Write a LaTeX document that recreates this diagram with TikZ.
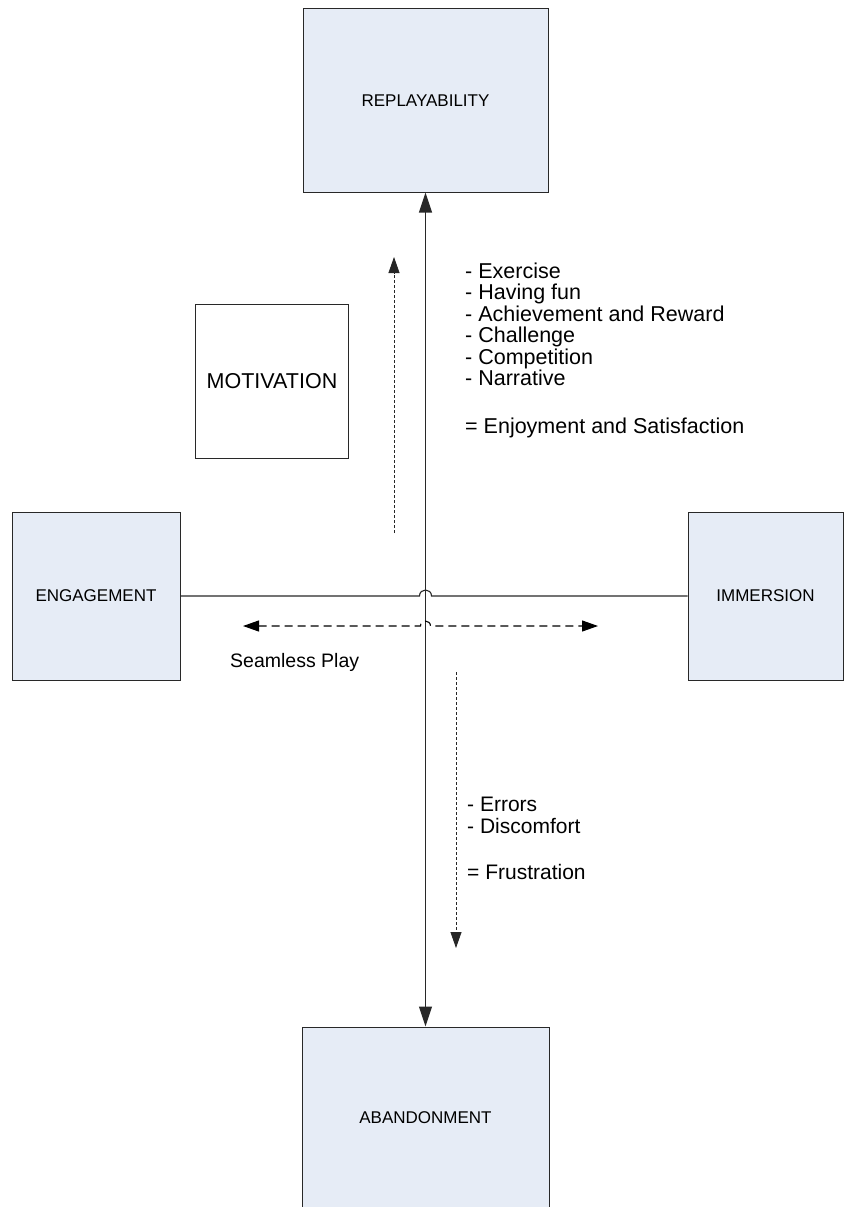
\documentclass[tikz,border=0pt]{standalone}
\usepackage{fontspec}
\setmainfont{Liberation Sans}
\usetikzlibrary{arrows.meta}
\definecolor{boxblue}{RGB}{230,236,246}
\definecolor{linegray}{RGB}{40,40,40}
\begin{document}
\begin{tikzpicture}[x=1pt,y=-1pt,
  bluebox/.style={draw=linegray, fill=boxblue, line width=1pt, inner sep=0pt,
    font=\fontsize{17}{20}\selectfont},
  whitebox/.style={draw=linegray, fill=white, line width=1pt, inner sep=0pt,
    font=\fontsize{21.5}{24}\selectfont},
  conn/.style={draw=linegray, line width=1.1pt},
  dconn/.style={draw=black, line width=1.1pt},
  fconn/.style={draw=black!85, line width=0.8pt},
  bigtip/.style={-{Triangle[length=20pt,width=13pt]}},
  smalltip/.style={-{Triangle[length=16pt,width=11pt]}},
  longdash/.style={dash pattern=on 8pt off 5pt},
  finedash/.style={dash pattern=on 3pt off 2pt},
  lbl/.style={anchor=base west, inner sep=0pt, font=\fontsize{21.5}{24}\selectfont},
  lblb/.style={anchor=base west, inner sep=0pt, font=\fontsize{21}{24}\selectfont},
  lblc/.style={anchor=base west, inner sep=0pt, font=\fontsize{19.5}{24}\selectfont}
]
\useasboundingbox (0,0) rectangle (845,1207);
\clip (0,0) rectangle (845,1207);

% boxes
\node[bluebox, minimum width=245pt, minimum height=183pt] (rep) at (425.5,100.5) {REPLAYABILITY};
\node[bluebox, minimum width=168pt, minimum height=168pt] (eng) at (96,596) {ENGAGEMENT};
\node[bluebox, minimum width=155pt, minimum height=168pt] (imm) at (765.5,596) {IMMERSION};
\node[bluebox, minimum width=247pt, minimum height=182pt] (aba) at (425.5,1118) {ABANDONMENT};
\node[whitebox, minimum width=153pt, minimum height=154pt] (mot) at (272,381) {MOTIVATION};

% main vertical axis
\coordinate (vtop) at (rep.south);
\coordinate (vbot) at (aba.north);
\coordinate (cross) at (425.5,596);
\draw[conn, bigtip] (cross) -- (vtop);
\draw[conn, bigtip] (cross) -- (vbot);

% horizontal axis with hop
\draw[conn] (eng.east) -- (419.5,596) .. controls (419.5,588) and (431.5,588) .. (431.5,596) -- (imm.west);

% seamless play dashed double arrow with hop
\coordinate (spL) at (243,626);
\coordinate (spR) at (598,626);
\draw[dconn, longdash, {Triangle[length=16pt,width=11pt]}-{Triangle[length=16pt,width=11pt]}]
  (spL) -- (420.5,626) .. controls (420.5,619.5) and (430.5,619.5) .. (430.5,626) -- (spR);
\node[lblc] (seam) at (230,667) {Seamless Play};

% motivation dashed up arrow
\coordinate (muA) at (394,533);
\coordinate (muB) at (394,257);
\draw[fconn, finedash, smalltip] (muA) -- (muB);

% frustration dashed down arrow
\coordinate (mdA) at (456,672);
\coordinate (mdB) at (456,948);
\draw[fconn, finedash, smalltip] (mdA) -- (mdB);

% positive factors
\node[lbl] (p1) at (465,278) {- Exercise};
\node[lbl] (p2) at (465,299.5) {- Having fun};
\node[lbl] (p3) at (465,321) {- Achievement and Reward};
\node[lbl] (p4) at (465,342.5) {- Challenge};
\node[lbl] (p5) at (465,364) {- Competition};
\node[lbl] (p6) at (465,385.5) {- Narrative};
\node[lbl] (p7) at (465,433) {= Enjoyment and Satisfaction};

% negative factors
\node[lblb] (n1) at (467,811.5) {- Errors};
\node[lblb] (n2) at (467,833.5) {- Discomfort};
\node[lblb] (n3) at (467,879.5) {= Frustration};
\end{tikzpicture}
\end{document}
